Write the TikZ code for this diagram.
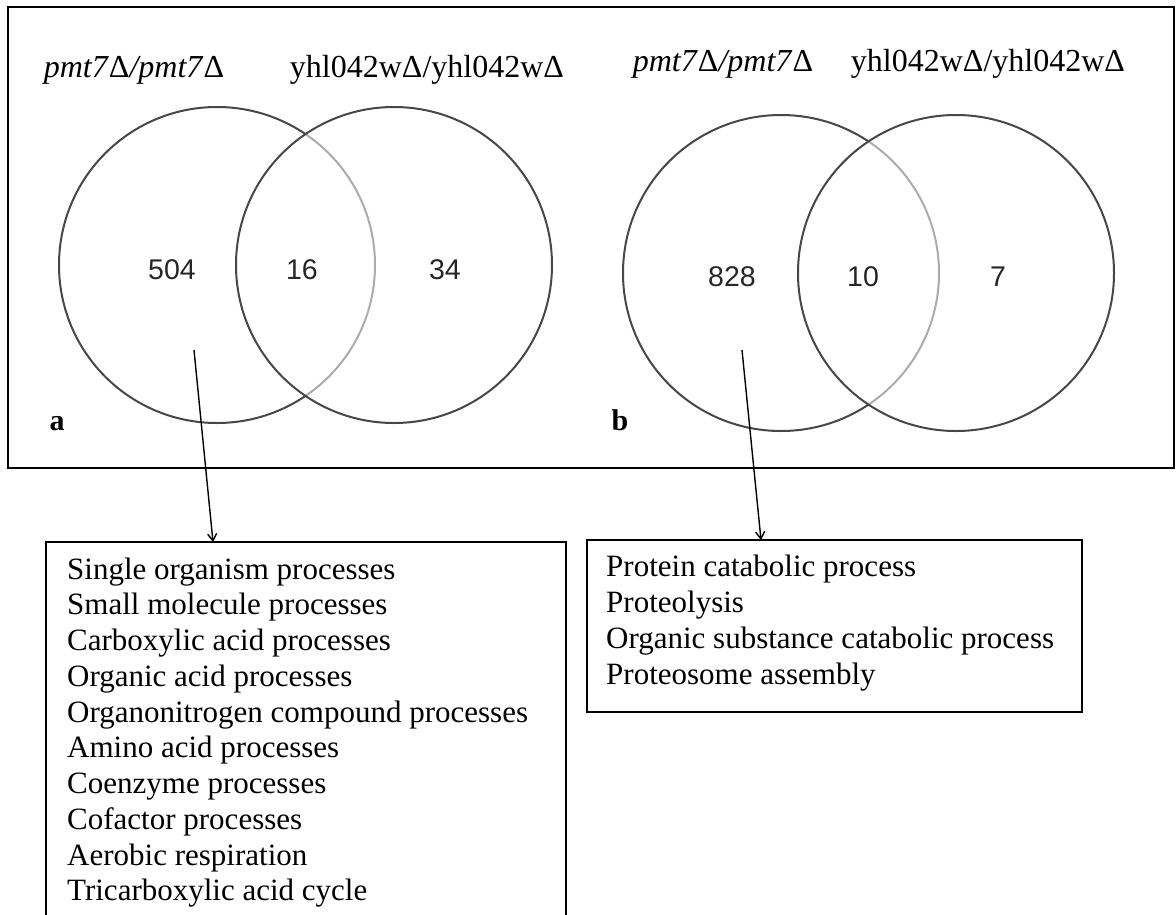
\documentclass[tikz,border=0pt]{standalone}
\usepackage{fontspec}
\setmainfont{Liberation Serif}
\newfontfamily\vennsans{Liberation Sans}
\usetikzlibrary{arrows.meta,calc}
\begin{document}
\begin{tikzpicture}[x=1pt,y=-1pt,
  venn/.style={circle, draw=black!72, line width=2pt, inner sep=0pt, outer sep=0pt, minimum size=316pt},
  tally/.style={font=\vennsans\fontsize{28.5}{30}\selectfont, text=black!85, inner sep=0pt},
  strain/.style={font=\fontsize{32}{34}\selectfont, inner sep=0pt},
  panellabel/.style={font=\bfseries\fontsize{30}{32}\selectfont, inner sep=0pt, anchor=base},
  boxframe/.style={draw=black, line width=2pt, inner sep=0pt, outer sep=0pt, anchor=north west},
  goterm/.style={font=\fontsize{31}{36}\selectfont, inner sep=0pt, anchor=base west},
  conn/.style={line width=1.4pt, -{Straight Barb[length=7pt,width=9pt]}}
]
\useasboundingbox (0,0) rectangle (1176,914);
\clip (0,0) rectangle (1176,914);

% outer frame around both Venn panels
\node[boxframe, minimum width=1166pt, minimum height=461pt] (outer) at (8,7) {};

% panel a
\node[strain] (tA1) at (134,70) {\textit{pmt7}Δ\textit{/pmt7}Δ};
\node[strain] (tA2) at (427,70) {yhl042wΔ/yhl042wΔ};
\node[venn] (cA1) at (217,265) {};
\node[venn, fill=white, fill opacity=0.55] (cA2) at (394,265) {};
\node[tally] (nA1) at (172,270) {504};
\node[tally] (nA2) at (302,270) {16};
\node[tally] (nA3) at (445,270) {34};
\node[panellabel] (pa) at (57,430) {a};

% panel b
\node[strain] (tB1) at (723,64) {\textit{pmt7}Δ\textit{/pmt7}Δ};
\node[strain] (tB2) at (988,64) {yhl042wΔ/yhl042wΔ};
\node[venn] (cB1) at (781,273) {};
\node[venn, fill=white, fill opacity=0.55] (cB2) at (956,273) {};
\node[tally] (nB1) at (732,277) {828};
\node[tally] (nB2) at (863,277) {10};
\node[tally] (nB3) at (998,277) {7};
\node[panellabel] (pb) at (620,430) {b};

% GO term boxes
\node[boxframe, minimum width=520pt, minimum height=420pt] (boxA) at (46,542) {};
\node[boxframe, minimum width=495pt, minimum height=172pt] (boxB) at (587,540) {};

\foreach \t [count=\i] in {Single organism processes, Small molecule processes,
  Carboxylic acid processes, Organic acid processes,
  Organonitrogen compound processes, Amino acid processes,
  Coenzyme processes, Cofactor processes, Aerobic respiration,
  Tricarboxylic acid cycle}
  \node[goterm] (la\i) at (67,{579+35.75*(\i-1)}) {\t};

\foreach \t [count=\i] in {Protein catabolic process, Proteolysis,
  Organic substance catabolic process, Proteosome assembly}
  \node[goterm] (lb\i) at (606,{576+36*(\i-1)}) {\t};

% arrows from the unique sets to their term lists
\coordinate (srcA) at (194,350);
\coordinate (srcB) at (742,350);
\draw[conn] (srcA) -- ($(boxA.north west)+(167,0)$);
\draw[conn] (srcB) -- ($(boxB.north west)+(174,0)$);
\end{tikzpicture}
\end{document}
